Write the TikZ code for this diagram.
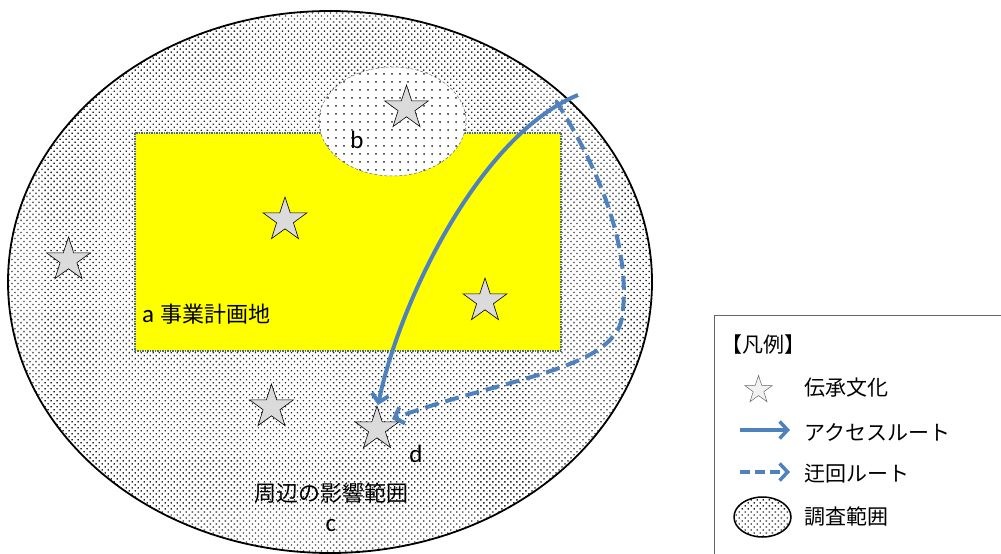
\documentclass[tikz,border=0pt]{standalone}
\usepackage{fontspec}
\setmainfont{Carlito}
\newfontfamily\jp{Noto Sans CJK JP}
\usetikzlibrary{shapes.geometric,patterns.meta,arrows.meta}
\definecolor{routeblue}{HTML}{4F81BD}
\definecolor{edgeblue}{HTML}{4A6A94}
\definecolor{siteyellow}{HTML}{FFFF00}
\tikzset{
  heritage/.style={star, star points=5, star point ratio=2.6, minimum size=46pt,
    inner sep=0pt, draw=black, line width=0.6pt, fill=black!14},
  route/.style={draw=routeblue, line width=4pt, -{Straight Barb[length=8pt,width=17pt]}},
  detour/.style={route, dash pattern=on 14pt off 7pt},
  jplabel/.style={font=\jp\fontsize{22}{26}\selectfont, inner sep=0pt},
  latlabel/.style={font=\fontsize{25}{28}\selectfont, inner sep=0pt},
  legtext/.style={font=\jp\fontsize{21}{25}\selectfont, inner sep=0pt, anchor=west},
  densedots/.style={preaction={fill=white}, pattern={Dots[distance=4.25pt,angle=45,radius=0.95pt]}, pattern color=black!85},
  sparsedots/.style={preaction={fill=white}, pattern={Dots[distance=8pt,radius=1pt]}, pattern color=black!85},
}
\begin{document}
\begin{tikzpicture}[x=1pt,y=-1pt]
\useasboundingbox (0,0) rectangle (1001,554);
\clip (0,0) rectangle (1001,554);
\fill[white] (0,0) rectangle (1001,554);

% surrounding area c
\draw[densedots, draw=black, line width=1.8pt] (330,282) ellipse [x radius=322pt, y radius=271pt];

% project site a
\draw[fill=siteyellow, draw=edgeblue, line width=1.5pt, densely dotted] (135,133) rectangle (561,351);

% survey area b
\draw[sparsedots, draw=black!60, line width=0.5pt, densely dashed] (392.5,121.5) ellipse [x radius=73.5pt, y radius=54.5pt];

% heritage stars
\node[heritage] (s1) at (406.5,108) {};
\node[heritage] (s2) at (285,220) {};
\node[heritage] (s3) at (68.5,260) {};
\node[heritage] (s4) at (485,301) {};
\node[heritage] (s5) at (271.5,407) {};
\node[heritage] (s6) at (377,429) {};

% labels
\node[latlabel, anchor=base] (lb) at (357,148) {b};
\node[anchor=base west, inner sep=0pt] (la) at (142,322) {\fontsize{25}{28}\selectfont a\hspace{0.25em}{\jp\fontsize{22}{26}\selectfont 事業計画地}};
\node[latlabel, anchor=base] (ld) at (416,462) {d};
\node[jplabel] (lc1) at (331,493) {周辺の影響範囲};
\node[latlabel, anchor=base] (lc) at (331,531) {c};

% routes
\coordinate (startA) at (578,95);
\coordinate (tipA) at (378,405);
\coordinate (startB) at (556,101);
\coordinate (midB) at (622,318);
\coordinate (tipB) at (392,419);
\draw[route] (startA) .. controls (480,135) and (400,300) .. (tipA);
\draw[detour] (startB) .. controls (600,170) and (632,250) .. (midB)
  .. controls (612,370) and (505,378) .. (tipB);

% legend
\draw[black!60, line width=1pt] (714,600) |- (1050,315);
\node[font=\jp\fontsize{21}{25}\selectfont, inner sep=0pt, anchor=west] (lt) at (721,345) {【凡例】};
\node[heritage, minimum size=29pt, fill=black!5, draw=black!60, line width=0.5pt] (ls) at (758.5,390) {};
\node[legtext] (l1) at (804,388) {伝承文化};
\coordinate (la1) at (740,430);
\coordinate (la2) at (790,430);
\draw[route, line width=3.5pt] (la1) -- (la2);
\node[legtext] (l2) at (804,432) {アクセスルート};
\coordinate (lb1) at (740,472);
\coordinate (lb2) at (790,472);
\draw[route, line width=3.5pt, dash pattern=on 10pt off 5pt] (lb1) -- (lb2);
\node[legtext] (l3) at (804,474) {迂回ルート};
\draw[densedots, draw=black, line width=1.5pt] (762.5,517) ellipse [x radius=28.5pt, y radius=20pt];
\node[legtext] (l4) at (804,517) {調査範囲};
\end{tikzpicture}
\end{document}
